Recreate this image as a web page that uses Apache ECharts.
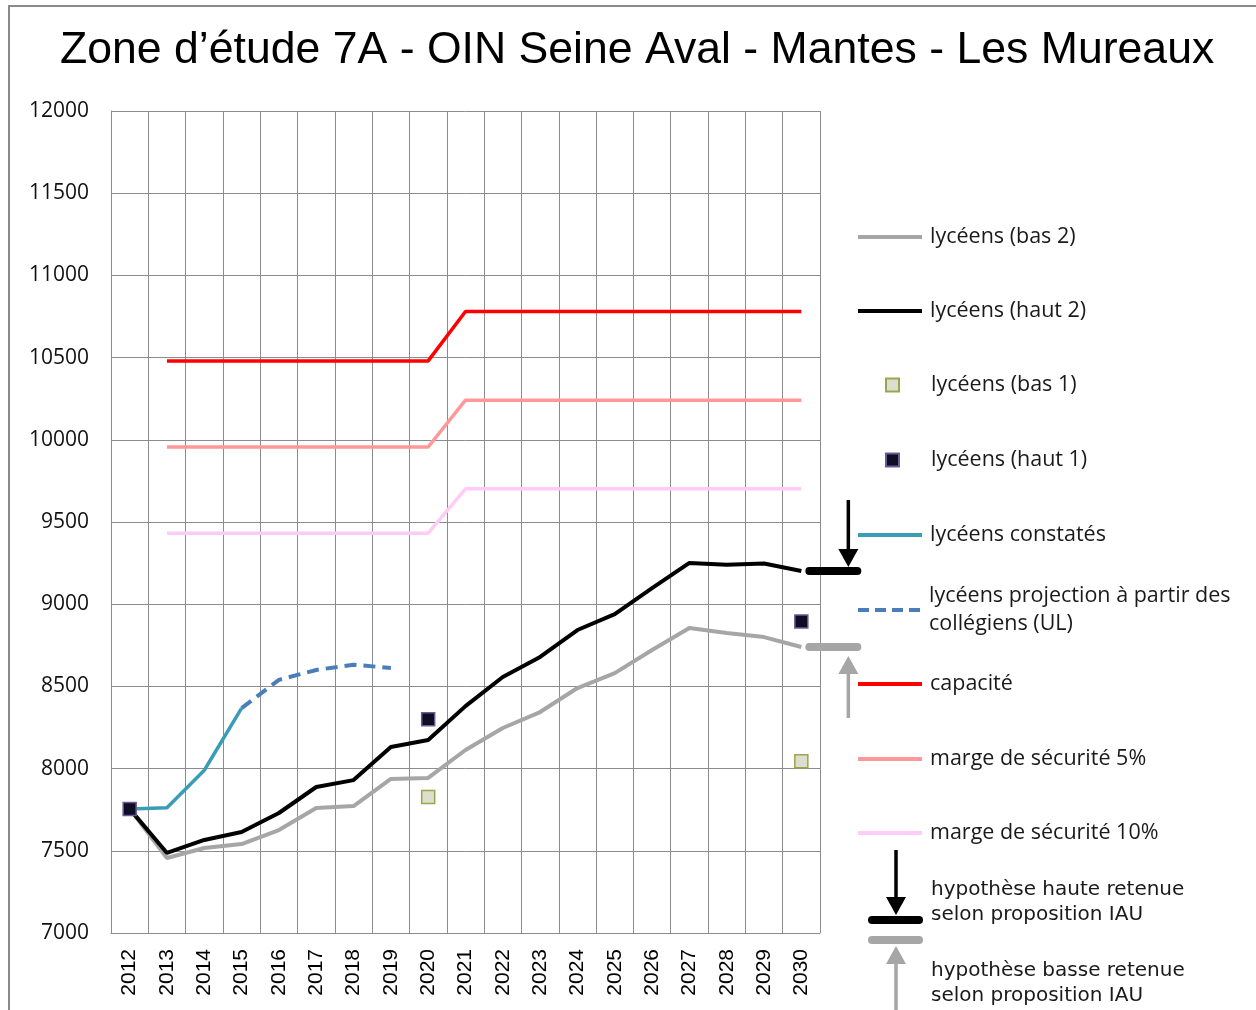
<!DOCTYPE html>
<html>
<head>
<meta charset="utf-8">
<script src="https://cdn.jsdelivr.net/npm/echarts@6/dist/echarts.min.js"></script>
<style>
html, body { margin: 0; padding: 0; background: #fff; }
#chart { width: 1256px; height: 1010px; }
</style>
</head>
<body>
<div id="chart"></div>
<script>
var years = ['2012', '2013', '2014', '2015', '2016', '2017', '2018', '2019', '2020', '2021',
             '2022', '2023', '2024', '2025', '2026', '2027', '2028', '2029', '2030'];

var basDeux = [7755, 7456, 7517, 7541, 7626, 7760, 7772, 7937, 7943, 8113,
               8247, 8344, 8490, 8581, 8721, 8855, 8825, 8800, 8740];
var hautDeux = [7755, 7487, 7566, 7614, 7730, 7888, 7930, 8131, 8174, 8380,
                8557, 8679, 8843, 8940, 9098, 9251, 9240, 9248, 9202];
var basUn = [null, null, null, null, null, null, null, null, 7827, null,
             null, null, null, null, null, null, null, null, 8045];
var hautUn = [7755, null, null, null, null, null, null, null, 8300, null,
              null, null, null, null, null, null, null, null, 8895];
var constates = [7755, 7762, 7990, 8368, null, null, null, null, null, null,
                 null, null, null, null, null, null, null, null, null];
var projection = [null, null, null, 8368, 8540, 8600, 8632, 8612, null, null,
                  null, null, null, null, null, null, null, null, null];
var capacite = [null, 10480, 10480, 10480, 10480, 10480, 10480, 10480, 10480, 10780,
                10780, 10780, 10780, 10780, 10780, 10780, 10780, 10780, 10780];
var marge5 = [null, 9956, 9956, 9956, 9956, 9956, 9956, 9956, 9956, 10241,
              10241, 10241, 10241, 10241, 10241, 10241, 10241, 10241, 10241];
var marge10 = [null, 9432, 9432, 9432, 9432, 9432, 9432, 9432, 9432, 9702,
               9702, 9702, 9702, 9702, 9702, 9702, 9702, 9702, 9702];

var seriesNames = ['lycéens (bas 2)', 'lycéens (haut 2)', 'lycéens (bas 1)', 'lycéens (haut 1)',
                   'lycéens constatés', 'lycéens projection à partir des collégiens (UL)',
                   'capacité', 'marge de sécurité 5%', 'marge de sécurité 10%'];

// layout of the legend column (symbol centre y of each entry)
var legendY = [237, 311, 385, 460, 535, 610, 684, 759, 833];
var dashIcon = 'path://M0,0h11v4h-11z M17,0h11v4h-11z M34,0h11v4h-11z M51,0h11v4h-11z';

var chart = echarts.init(document.getElementById('chart'));

function lineSerie(name, data, color, width, z, dash) {
    return {
        name: name,
        type: 'line',
        data: data,
        symbol: 'none',
        z: z,
        lineStyle: { color: color, width: width, type: dash || 'solid', cap: 'butt' },
        itemStyle: { color: color }
    };
}

function dotSerie(name, data, fill, border) {
    return {
        name: name,
        type: 'scatter',
        data: data,
        symbol: 'rect',
        symbolSize: 13,
        z: 10,
        itemStyle: { color: fill, borderColor: border, borderWidth: 1.5, opacity: 1 }
    };
}

var legends = seriesNames.map(function (name, i) {
    var isDot = (i === 2 || i === 3);
    var twoLines = (i === 5);
    return {
        left: isDot ? 885 : 858,
        top: legendY[i] - (twoLines ? 42 : 14),
        padding: 0,
        data: [{ name: name, icon: isDot ? 'rect' : (twoLines ? dashIcon : 'rect') }],
        itemWidth: isDot ? 13 : 64,
        itemHeight: isDot ? 13 : 4,
        selectedMode: false,
        formatter: function (n) { return n.replace(' collégiens', '\ncollégiens'); },
        textStyle: {
            fontFamily: 'Open Sans', fontSize: 21.5, color: '#1a1a1a', lineHeight: 28,
            padding: [twoLines ? 28 : 0, 0, 0, isDot ? 27 : 3]
        }
    };
});

chart.setOption({
    animation: false,
    title: {
        text: 'Zone d’étude 7A - OIN Seine Aval - Mantes - Les Mureaux',
        left: 60,
        top: 28,
        padding: 0,
        textStyle: { fontFamily: 'Liberation Sans', fontSize: 44.6, fontWeight: 'normal', color: '#000' }
    },
    legend: legends,
    grid: { left: 111, top: 111, right: 436, bottom: 77 },
    xAxis: {
        type: 'category',
        data: years,
        boundaryGap: true,
        axisLine: { lineStyle: { color: '#8c8c8c', width: 1 } },
        axisTick: { show: false },
        splitLine: { show: true, interval: 0, lineStyle: { color: '#8c8c8c', width: 1 } },
        axisLabel: {
            interval: 0, rotate: 90, margin: 16,
            fontFamily: 'Liberation Sans', fontSize: 21, color: '#000'
        }
    },
    yAxis: {
        type: 'value',
        min: 7000, max: 12000, interval: 500,
        axisLine: { show: true, lineStyle: { color: '#8c8c8c', width: 1 } },
        axisTick: { show: false },
        splitLine: { lineStyle: { color: '#8c8c8c', width: 1 } },
        axisLabel: {
            margin: 22, fontFamily: 'Open Sans', fontSize: 21, color: '#111',
            formatter: function (v) { return String(v); }
        }
    },
    series: [
        lineSerie(seriesNames[0], basDeux, '#a6a6a6', 4, 4),
        lineSerie(seriesNames[1], hautDeux, '#000000', 4, 5),
        dotSerie(seriesNames[2], basUn, '#dcdfcf', '#9ea44c'),
        dotSerie(seriesNames[3], hautUn, '#0d0d24', '#6b5b95'),
        lineSerie(seriesNames[4], constates, '#3a9db6', 3.5, 6),
        lineSerie(seriesNames[5], projection, '#4a7ebb', 4, 6, [12, 7]),
        lineSerie(seriesNames[6], capacite, '#ff0000', 3.5, 3),
        lineSerie(seriesNames[7], marge5, '#ff9999', 3.5, 3),
        lineSerie(seriesNames[8], marge10, '#ffccf7', 3.5, 3)
    ]
});

// arrow pointing vertically to yTip
function arrow(x, yFrom, yTip, color) {
    var dir = yTip > yFrom ? 1 : -1;
    return [{
        type: 'line', z: 20,
        shape: { x1: x, y1: yFrom, x2: x, y2: yTip - dir * 14 },
        style: { stroke: color, lineWidth: 3.5 }
    }, {
        type: 'polygon', z: 20,
        shape: { points: [[x - 10, yTip - dir * 18], [x + 10, yTip - dir * 18], [x, yTip]] },
        style: { fill: color }
    }];
}

function bar(x1, x2, y, color) {
    return {
        type: 'line', z: 20,
        shape: { x1: x1, y1: y, x2: x2, y2: y },
        style: { stroke: color, lineWidth: 8, lineCap: 'round' }
    };
}

var last = years.length - 1;
var pHaut = chart.convertToPixel({ xAxisIndex: 0, yAxisIndex: 0 }, [years[last], hautDeux[last]]);
var pBas = chart.convertToPixel({ xAxisIndex: 0, yAxisIndex: 0 }, [years[last], basDeux[last]]);

var textStyle = { fontFamily: 'DejaVu Sans', fontSize: 20, fill: '#1a1a1a' };
var graphics = [
    {
        type: 'rect', z: 0, silent: true,
        shape: { x: 9, y: 6, width: 1400, height: 1200 },
        style: { fill: 'none', stroke: '#8a8a8a', lineWidth: 2 }
    },
    bar(pHaut[0] + 8, pHaut[0] + 56, pHaut[1], '#000000'),
    bar(pBas[0] + 8, pBas[0] + 56, pBas[1], '#a6a6a6'),
    bar(872, 919, 920, '#000000'),
    bar(872, 919, 940, '#a6a6a6'),
    { type: 'text', z: 20, style: Object.assign({ x: 931, y: 890, text: 'hypothèse haute retenue', verticalAlign: 'middle' }, textStyle) },
    { type: 'text', z: 20, style: Object.assign({ x: 931, y: 915, text: 'selon proposition IAU', verticalAlign: 'middle' }, textStyle) },
    { type: 'text', z: 20, style: Object.assign({ x: 931, y: 971, text: 'hypothèse basse retenue', verticalAlign: 'middle' }, textStyle) },
    { type: 'text', z: 20, style: Object.assign({ x: 931, y: 996, text: 'selon proposition IAU', verticalAlign: 'middle' }, textStyle) }
].concat(
    arrow(pHaut[0] + 47, pHaut[1] - 71, pHaut[1] - 4, '#000000'),
    arrow(pBas[0] + 47, pBas[1] + 71, pBas[1] + 9, '#a6a6a6'),
    arrow(896, 850, 915, '#000000'),
    arrow(896, 1012, 946, '#a6a6a6')
);

chart.setOption({ graphic: graphics });
</script>
</body>
</html>
